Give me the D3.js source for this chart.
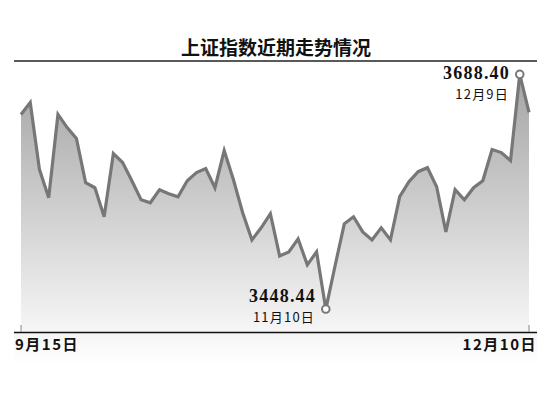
<!DOCTYPE html>
<html>
<head>
<meta charset="utf-8">
<script src="https://cdn.jsdelivr.net/npm/d3@7"></script>
<style>
  html, body { margin: 0; padding: 0; background: #fff; }
  svg { display: block; }
</style>
</head>
<body>
<svg id="chart" width="550" height="420"></svg>
<script>
// ---- data ----
const title = "上证指数近期走势情况";
const values = [
  3647.4, 3659.7, 3591.0, 3562.3, 3647.4, 3634.0, 3622.8, 3577.6, 3572.5, 3542.8,
  3607.4, 3598.2, 3579.7, 3560.2, 3557.1, 3570.5, 3566.4, 3563.3, 3579.7, 3587.9,
  3592.0, 3572.5, 3610.5, 3580.7, 3546.9, 3519.2, 3531.5, 3545.9, 3502.8, 3506.9,
  3520.2, 3493.6, 3506.9, 3448.44, 3492.5, 3535.6, 3542.8, 3527.4, 3519.2, 3531.5,
  3519.2, 3563.3, 3578.7, 3588.9, 3593.0, 3573.5, 3527.4, 3570.5, 3560.2, 3572.5,
  3579.7, 3611.5, 3608.4, 3600.2, 3688.40, 3649.4
];
const tickLabels = ["9月15日", "12月10日"];
const annotations = [
  { index: 54, value: "3688.40", date: "12月9日" },
  { index: 33, value: "3448.44", date: "11月10日" }
];
const yDomain = [3425, 3700];

// ---- layout ----
const svg = d3.select("#chart");
const plotLeft = 21, plotRight = 529, plotTop = 63, plotBottom = 332;

const x = d3.scaleLinear().domain([0, values.length - 1]).range([plotLeft, plotRight]);
const y = d3.scaleLinear().domain(yDomain).range([plotBottom, plotTop]);

const defs = svg.append("defs");
const g1 = defs.append("linearGradient").attr("id", "areaGrad")
  .attr("gradientUnits", "userSpaceOnUse").attr("x1", 0).attr("x2", 0)
  .attr("y1", 90).attr("y2", plotBottom);
g1.append("stop").attr("offset", "0").attr("stop-color", "#a9a9a9");
g1.append("stop").attr("offset", "1").attr("stop-color", "#f6f6f6");

const g2 = defs.append("linearGradient").attr("id", "floorGrad")
  .attr("x1", 0).attr("x2", 0).attr("y1", 0).attr("y2", 1);
g2.append("stop").attr("offset", "0").attr("stop-color", "#f4f4f4");
g2.append("stop").attr("offset", "1").attr("stop-color", "#ffffff");

// title
svg.append("text")
  .attr("x", 276).attr("y", 55)
  .attr("text-anchor", "middle")
  .attr("font-family", "'Noto Sans CJK SC', sans-serif")
  .attr("font-weight", "bold")
  .attr("font-size", 19)
  .attr("fill", "#111")
  .text(title);

// top rule
svg.append("line")
  .attr("x1", 14).attr("x2", 537).attr("y1", 61).attr("y2", 61)
  .attr("stroke", "#222").attr("stroke-width", 1.5);

// faint floor shading below axis
svg.append("rect")
  .attr("x", 14).attr("y", plotBottom).attr("width", 523).attr("height", 32)
  .attr("fill", "url(#floorGrad)");

// area
const area = d3.area()
  .x((d, i) => x(i))
  .y0(plotBottom)
  .y1(d => y(d));
svg.append("path").datum(values)
  .attr("d", area)
  .attr("fill", "url(#areaGrad)");

// line
const line = d3.line().x((d, i) => x(i)).y(d => y(d));
svg.append("path").datum(values)
  .attr("d", line)
  .attr("fill", "none")
  .attr("stroke", "#777")
  .attr("stroke-width", 3.2);

// x axis line
svg.append("line")
  .attr("x1", 14).attr("x2", 537).attr("y1", plotBottom + 0.5).attr("y2", plotBottom + 0.5)
  .attr("stroke", "#111").attr("stroke-width", 1.3);

// ticks + labels
const tickIdx = [0, values.length - 1];
tickIdx.forEach((ti, k) => {
  svg.append("line")
    .attr("x1", x(ti)).attr("x2", x(ti))
    .attr("y1", plotBottom - 7).attr("y2", plotBottom)
    .attr("stroke", "#888").attr("stroke-width", 1);
  svg.append("text")
    .attr("x", k === 0 ? 15 : 537)
    .attr("y", 350)
    .attr("text-anchor", k === 0 ? "start" : "end")
    .attr("font-family", "'Noto Sans CJK SC', sans-serif")
    .attr("font-weight", "bold")
    .attr("font-size", 15)
    .attr("letter-spacing", 1.5)
    .attr("fill", "#111")
    .text(tickLabels[k]);
});

// annotations
annotations.forEach(a => {
  const cx = x(a.index), cy = y(values[a.index]);
  const isMax = a.index === 54;
  const tx = isMax ? 510 : 316;
  const vy = isMax ? 79 : 302;
  svg.append("text")
    .attr("x", tx).attr("y", vy)
    .attr("text-anchor", "end")
    .attr("font-family", "'Liberation Serif', 'Times New Roman', serif")
    .attr("font-weight", "bold")
    .attr("font-size", 18)
    .attr("letter-spacing", 1.2)
    .attr("fill", "#111")
    .text(a.value);
  svg.append("text")
    .attr("x", tx - 1).attr("y", vy + 20)
    .attr("text-anchor", "end")
    .attr("font-family", "'Noto Sans CJK SC', sans-serif")
    .attr("font-size", 13)
    .attr("letter-spacing", 1.2)
    .attr("fill", "#111")
    .text(a.date);
  svg.append("circle")
    .attr("cx", cx).attr("cy", cy).attr("r", 3.8)
    .attr("fill", "#fff")
    .attr("stroke", "#777")
    .attr("stroke-width", 2);
});
</script>
</body>
</html>
